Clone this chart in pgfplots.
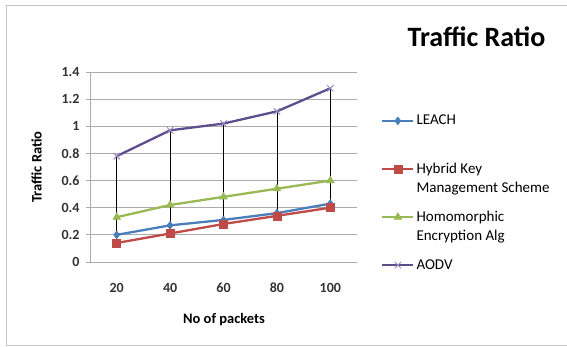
\documentclass[border=0pt]{standalone}
\usepackage{pgfplots}
\pgfplotsset{compat=1.18}
\usepackage{fontspec}
\setmainfont{Carlito}
\definecolor{cblue}{HTML}{4A7EBB}
\definecolor{cred}{HTML}{BE4B48}
\definecolor{cgreen}{HTML}{98B954}
\definecolor{cpurple}{HTML}{5E4E8E}
\definecolor{cpurplem}{HTML}{9A8BC4}
\definecolor{gridc}{HTML}{ABABAB}
\newcommand{\legtxt}[2]{\vtop{\baselineskip=19pt\hbox{#1}\hbox{#2}}}
\begin{document}
\begin{tikzpicture}[x=1pt,y=1pt]
\path[use as bounding box] (0,0) rectangle (567,347);
\draw[gridc!70, line width=0.8pt] (567,342) -- (6.5,342) -- (6.5,2) -- (567,2);
\node[font=\bfseries\fontsize{28}{28}\selectfont, anchor=base] at (476.5,300) {Traffic Ratio};
\begin{axis}[
  at={(90pt,85pt)}, anchor=south west, scale only axis,
  width=267pt, height=190pt,
  xmin=-0.5, xmax=4.5, ymin=0, ymax=1.4,
  xtick={0,1,2,3,4}, xticklabels={20,40,60,80,100},
  ytick={0,0.2,0.4,0.6,0.8,1,1.2,1.4},
  /pgf/number format/assume math mode=true,
  axis lines*=left,
  axis line style={gridc, line width=0.8pt},
  ymajorgrids, grid style={gridc, line width=0.8pt},
  xtick style={draw=none},
  ytick style={gridc, line width=0.8pt},
  tick align=outside, major tick length=4pt,
  ticklabel style={font=\bfseries\fontsize{14}{14}\selectfont, text=black!80},
  xticklabel style={anchor=center, yshift=-22pt},
  yticklabel style={xshift=-3pt},
  xlabel={No of packets}, ylabel={Traffic Ratio},
  every axis x label/.style={at={(axis description cs:0.502,-0.305)}, anchor=center, font=\bfseries\fontsize{14.5}{14.5}\selectfont},
  every axis y label/.style={at={(axis description cs:-0.2,0.5)}, rotate=90, anchor=center, font=\bfseries\fontsize{14.5}{14.5}\selectfont},
  legend style={at={(axis description cs:1.09,0.784)}, anchor=north west, draw=none, fill=none,
    font=\fontsize{15}{15}\selectfont, row sep=32.4pt, inner sep=0pt,
    legend cell align=left},
  legend image code/.code={\draw[mark repeat=2,mark phase=2] plot coordinates {(0pt,0pt)(15.5pt,0pt)(31pt,0pt)};},
  clip=false,
]
\addplot[black, line width=0.7pt, forget plot, unbounded coords=jump] coordinates {
 (0,0.14) (0,0.78) (0,nan)
 (1,0.21) (1,0.97) (1,nan)
 (2,0.28) (2,1.02) (2,nan)
 (3,0.34) (3,1.11) (3,nan)
 (4,0.40) (4,1.28)};
\addplot[cblue, line width=2.3pt, mark=diamond*, mark size=4pt, mark options={solid, line width=0.5pt}] coordinates {
 (0,0.20) (1,0.27) (2,0.31) (3,0.36) (4,0.43)};
\addlegendentry{\legtxt{LEACH}{}}
\addplot[cred, line width=2.3pt, mark=square*, mark size=4pt, mark options={solid, line width=0.5pt}] coordinates {
 (0,0.14) (1,0.21) (2,0.28) (3,0.34) (4,0.40)};
\addlegendentry{\legtxt{Hybrid Key}{Management Scheme}}
\addplot[cgreen, line width=2.3pt, mark=triangle*, mark size=4.5pt, mark options={solid, line width=0.5pt}] coordinates {
 (0,0.33) (1,0.42) (2,0.48) (3,0.54) (4,0.60)};
\addlegendentry{\legtxt{Homomorphic}{Encryption Alg}}
\addplot[cpurple, line width=2.3pt, mark=x, mark size=4.5pt, mark options={solid, cpurplem, line width=1pt}] coordinates {
 (0,0.78) (1,0.97) (2,1.02) (3,1.11) (4,1.28)};
\addlegendentry{\legtxt{AODV}{}}
\end{axis}
\end{tikzpicture}
\end{document}
